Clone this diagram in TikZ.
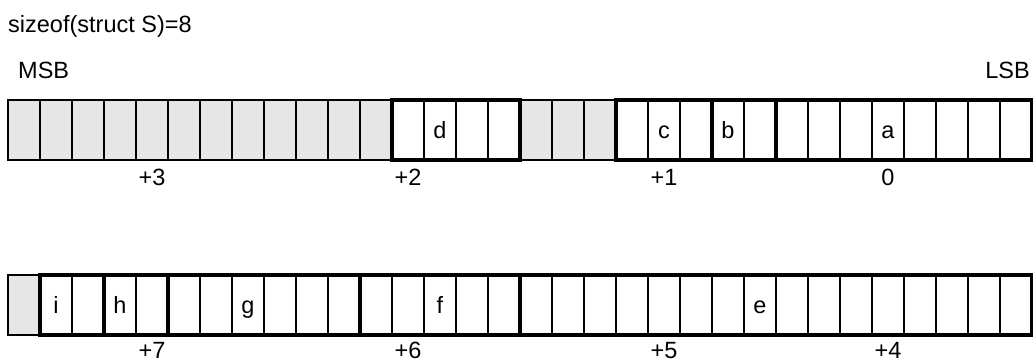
\documentclass[tikz,border=0pt]{standalone}
\usepackage{fontspec}
\setmainfont{Liberation Sans}
\usepackage{tikz}
\usetikzlibrary{positioning,calc}
\definecolor{cpad}{HTML}{E6E6E6}

\begin{document}
\begin{tikzpicture}[x=1pt,y=1pt,
  font=\fontsize{23.5}{28}\selectfont,
  bit/.style={rectangle,draw,line width=2.2pt,inner sep=0pt,outer sep=0pt,minimum width=32pt,minimum height=60pt},
  pad/.style={bit,fill=cpad},
  tag/.style={inner sep=0pt,text height=16pt,text depth=0pt},
  field/.style={draw,line width=4.5pt},
  lbl/.style={inner sep=0pt,anchor=base}]
  \useasboundingbox (0,0) rectangle (1033,-361);

  % titles
  \node[lbl,anchor=base west] (title) at (8,-33) {sizeof(struct S)=8};
  \node[lbl,anchor=base west] (msb) at (18,-78) {MSB};
  \node[lbl,anchor=base east] (lsb) at (1030,-78) {LSB};

  % upper word, offsets +3..0
  \foreach \i in {0,...,11,16,17,18}
    \node[pad] (u\i) at (24+32*\i,-130) {};
  \foreach \i in {12,...,15,19,20,...,31}
    \node[bit] (u\i) at (24+32*\i,-130) {};
  \draw[field] (u12.north west) rectangle (u15.south east);
  \draw[field] (u19.north west) rectangle (u31.south east);
  \draw[field] (u22.north west) -- (u22.south west);
  \draw[field] (u24.north west) -- (u24.south west);
  \node[tag] (fd) at (u13) {d};
  \node[tag] (fc) at (u20) {c};
  \node[tag] (fb) at (u22) {b};
  \node[tag] (fa) at (u27) {a};

  % lower word, offsets +7..+4
  \node[pad] (l0) at (24,-305) {};
  \foreach \i in {1,...,31}
    \node[bit] (l\i) at (24+32*\i,-305) {};
  \draw[field] (l1.north west) rectangle (l31.south east);
  \foreach \i in {3,5,11,16}
    \draw[field] (l\i.north west) -- (l\i.south west);
  \node[tag] (fi) at (l1) {i};
  \node[tag] (fh) at (l3) {h};
  \node[tag] (fg) at (l7) {g};
  \node[tag] (ff) at (l13) {f};
  \node[tag] (fe) at (l23) {e};

  % byte offsets
  \node[lbl] (o3) at ([yshift=-25pt]u4.south) {+3};
  \node[lbl] (o2) at ([yshift=-25pt]u12.south) {+2};
  \node[lbl] (o1) at ([yshift=-25pt]u20.south) {+1};
  \node[lbl] (o0) at ([yshift=-25pt]u27.south) {0};
  \node[lbl] (o7) at ([yshift=-23pt]l4.south) {+7};
  \node[lbl] (o6) at ([yshift=-23pt]l12.south) {+6};
  \node[lbl] (o5) at ([yshift=-23pt]l20.south) {+5};
  \node[lbl] (o4) at ([yshift=-23pt]l27.south) {+4};
\end{tikzpicture}
\end{document}
